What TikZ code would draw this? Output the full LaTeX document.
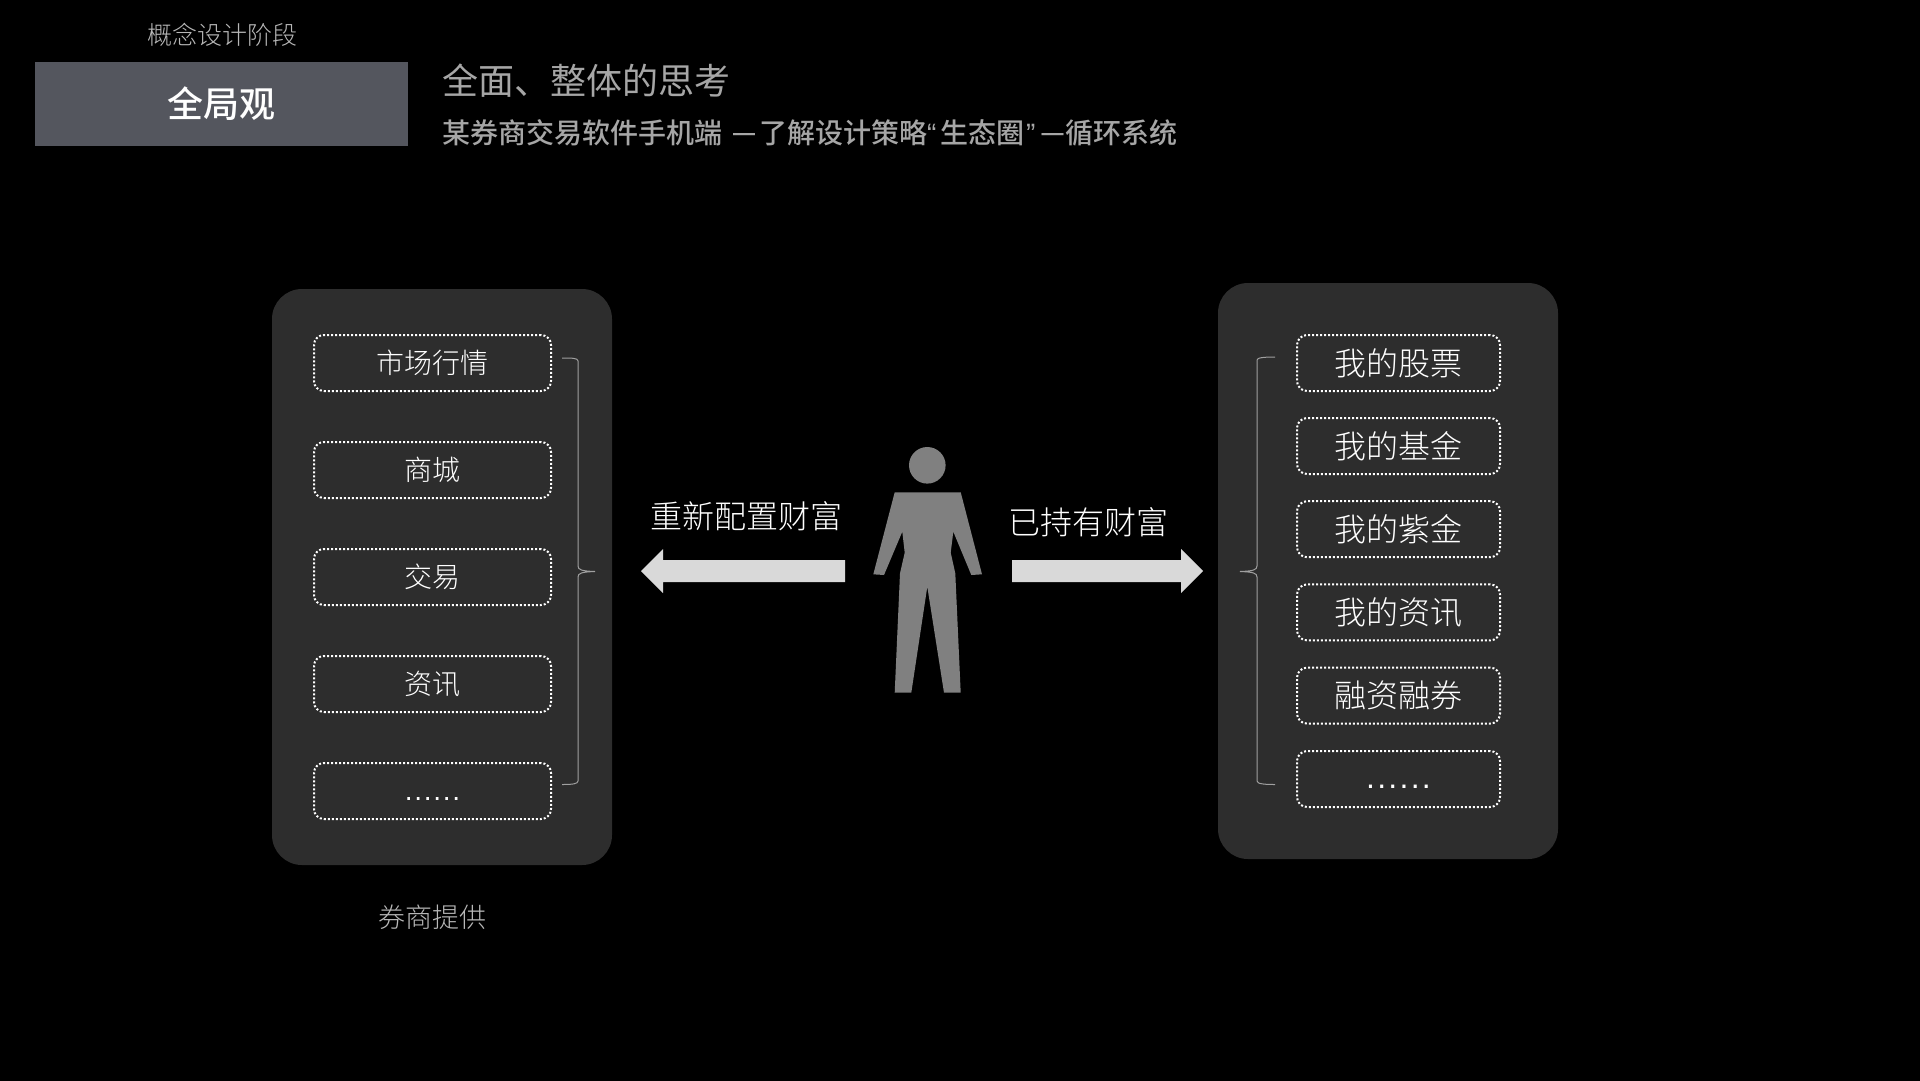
\documentclass[tikz,border=0pt]{standalone}
\usepackage{fontspec}
\setmainfont{Noto Sans CJK SC Light}[BoldFont={Noto Sans CJK SC Medium}]
\newfontfamily\regfont{Noto Sans CJK SC}
\newfontfamily\medfont{Noto Sans CJK SC Medium}
\newfontfamily\latinf{Liberation Sans}
\definecolor{panelc}{HTML}{2D2D2D}
\definecolor{headc}{HTML}{54565E}
\definecolor{greyt}{HTML}{A6A6A6}
\definecolor{greyl}{HTML}{B8B8B8}
\definecolor{figc}{HTML}{808080}
\definecolor{arrowc}{HTML}{D9D9D9}
\definecolor{bracec}{HTML}{A0A0A0}
\newcommand{\fs}[1]{\fontsize{#1}{#1}\selectfont}
\newcommand{\dotsrow}[1]{\smash{\raisebox{-9pt}{\latinf\addfontfeature{LetterSpace=#1}......}}}
\newcommand{\subdash}{\raisebox{3.5pt}{\fs{22}\latinf\bfseries —}}
\tikzset{
 panel/.style={fill=panelc,draw=none,rounded corners=30pt,inner sep=0pt},
 itembox/.style={draw=white,line width=2pt,dash pattern=on 2pt off 2pt,rounded corners=10pt,inner sep=0pt,text=white},
 leftitem/.style={itembox,minimum width=237pt,minimum height=56pt,font=\fs{28}},
 rightitem/.style={itembox,minimum width=203pt,minimum height=56pt,font=\fs{32}},
 label/.style={inner sep=0pt,anchor=center},
 brace/.style={draw=bracec,line width=1pt},
 bigarrow/.style={fill=arrowc,draw=none},
}
\begin{document}
\begin{tikzpicture}[x=1pt,y=-1pt]
\useasboundingbox (0,0) rectangle (1920,1080);
\fill[black] (-5,-5) rectangle (1925,1085);
\node[label,text=greyl,font=\fs{25}] (phase) at (222,34.5) {概念设计阶段};
\node[fill=headc,minimum width=373pt,minimum height=84pt,inner sep=0pt,text=white,font=\fs{36}\medfont] (head) at (221.5,104) {全局观};
\node[label,anchor=west,text=greyt,font=\fs{36}\regfont] (title) at (442,80.5) {全面、整体的思考};
\node[label,anchor=west,text=greyt,font=\fs{28}\medfont] (sub) at (442,133) {某券商交易软件手机端\hspace{11pt}\subdash\hspace{4pt}了解设计策略{\latinf “}\hspace{3.7pt}生态圈\hspace{2pt}{\latinf ”}\hspace{6pt}\subdash\hspace{2.4pt}循环系统};
% panels
\node[panel,minimum width=340pt,minimum height=576pt] (lp) at (442,577) {};
\node[panel,minimum width=340pt,minimum height=576pt] (rp) at (1388,571) {};
% left items
\node[leftitem] (l1) at (432.5,363) {\raisebox{-1.2pt}{市场行情}};
\node[leftitem] (l2) at (432.5,470) {商城};
\node[leftitem] (l3) at (432.5,577) {交易};
\node[leftitem] (l4) at (432.5,684) {资讯};
\node[leftitem] (l5) at (432.5,791) {\dotsrow{6}};
% right items
\node[rightitem] (r1) at (1398.5,363) {我的股票};
\node[rightitem] (r2) at (1398.5,446) {我的基金};
\node[rightitem] (r3) at (1398.5,529.2) {我的紫金};
\node[rightitem] (r4) at (1398.5,612.4) {我的资讯};
\node[rightitem] (r5) at (1398.5,695.6) {融资融券};
\node[rightitem] (r6) at (1398.5,779) {\dotsrow{7}};
% braces
\draw[brace] (562,358) .. controls (572,358) and (578,358) .. (578,361) -- (578,566) .. controls (578,570) and (582,571) .. (595,571.5) .. controls (582,572) and (578,573) .. (578,577) -- (578,781) .. controls (578,784) and (572,784.5) .. (562,784.5);
\draw[brace] (1275,357) .. controls (1265,357) and (1257,357.5) .. (1257,360) -- (1257,566) .. controls (1257,570) and (1253,571) .. (1240,571.5) .. controls (1253,572) and (1257,573) .. (1257,577) -- (1257,781) .. controls (1257,784) and (1265,784.5) .. (1275,784.5);
% arrows
\fill[bigarrow] (641,571) -- (663,549) -- (663,560) -- (845,560) -- (845,582) -- (663,582) -- (663,593) -- cycle;
\fill[bigarrow] (1203,571) -- (1181,549) -- (1181,560) -- (1012,560) -- (1012,582) -- (1181,582) -- (1181,593) -- cycle;
\node[label,text=white,font=\fs{32}] (tl) at (746,516) {重新配置财富};
\node[label,text=white,font=\fs{32}] (tr) at (1088,522) {已持有财富};
\node[label,text=greyl,font=\fs{27}] (cap) at (432,917) {券商提供};
% figure
\fill[figc] (927.3,465.3) circle (18.3);
\fill[figc] (894.7,492.3) -- (960.7,492.3) -- (982,574.3) -- (971.3,575) -- (953.3,531.7) -- (950.7,552.7) -- (955.3,573.3) -- (960.7,692.7) -- (944,692.7) -- (927.3,586.7) -- (911.3,692.7) -- (894.7,692.7) -- (900,573.3) -- (904.7,552.7) -- (902.3,531.7) -- (884,575) -- (873.3,574.3) -- cycle;
\end{tikzpicture}
\end{document}
